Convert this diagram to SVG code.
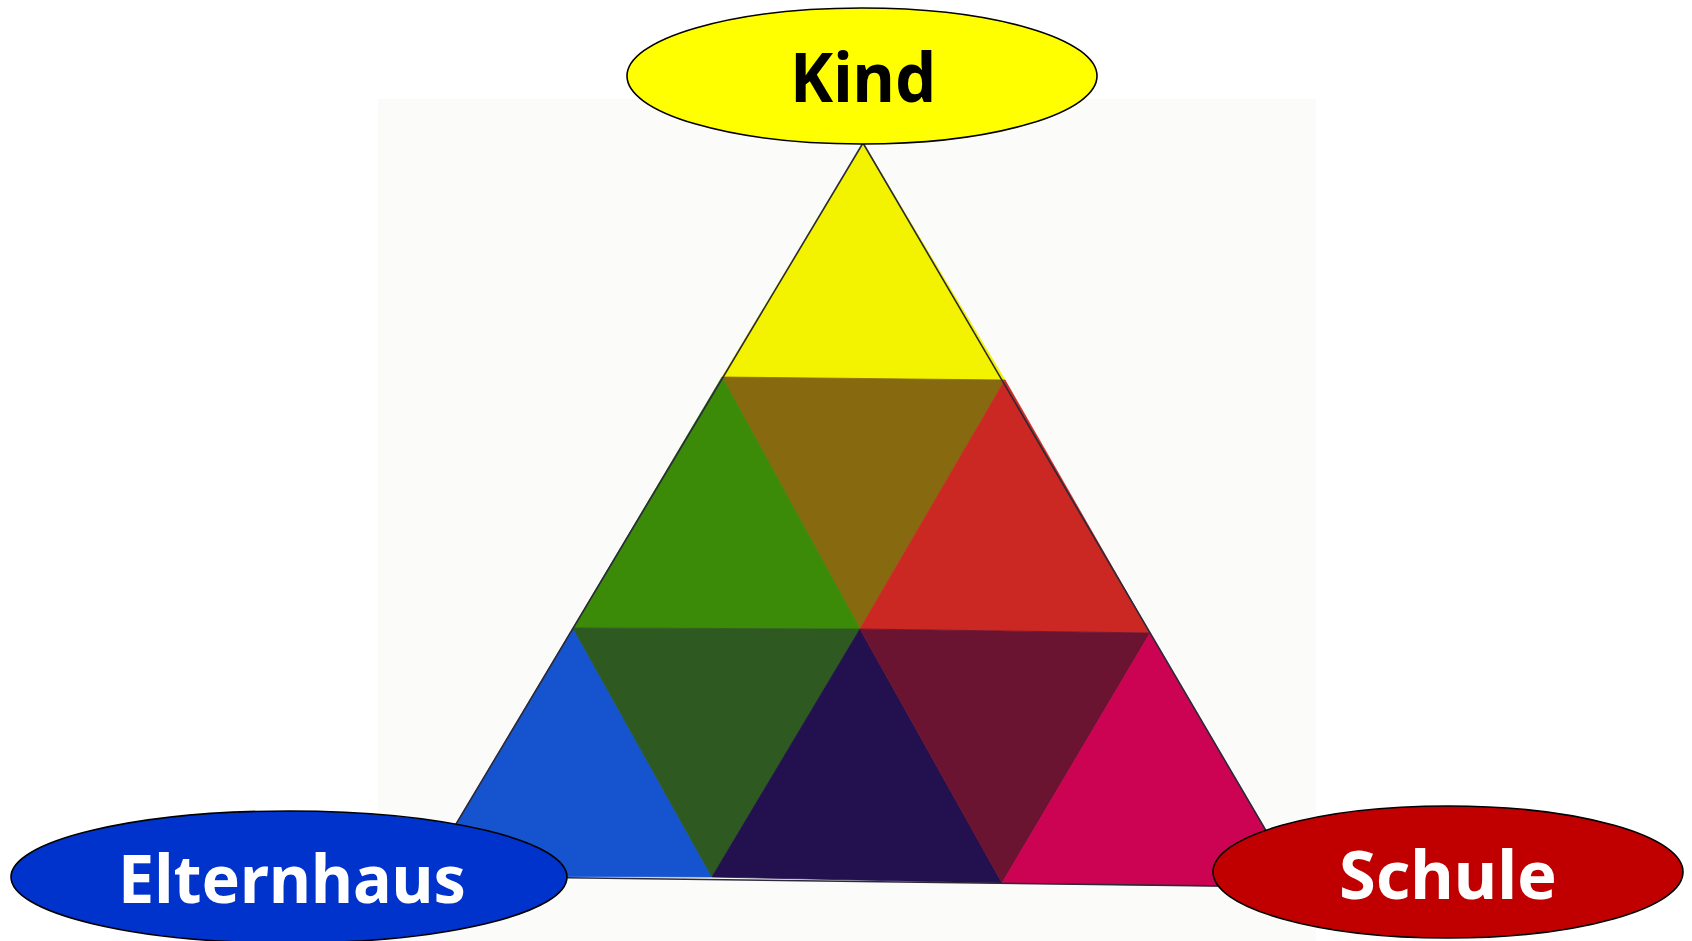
<svg xmlns="http://www.w3.org/2000/svg" width="1692" height="941" viewBox="0 0 1692 941">
  <style>
    .node { stroke: #000; stroke-width: 1.6; }
    .lbl { font-family: "Noto Sans", "DejaVu Sans", "Liberation Sans", sans-serif; font-weight: bold; text-anchor: middle; }
    .tri { stroke-width: 0.8; stroke-linejoin: round; }
  </style>
  <rect x="0" y="0" width="1692" height="941" fill="#ffffff"/>
  <rect id="backdrop" x="378" y="99" width="938" height="842" fill="#fbfcfa"/>
  <g id="triangle">
    <polygon class="tri" points="863,143 722,377 1005,380" fill="#f3f300" stroke="#f3f300"/>
    <polygon class="tri" points="722,377 1005,380 860,629" fill="#87690f" stroke="#87690f"/>
    <polygon class="tri" points="722,377 573,628 860,629" fill="#3b8a08" stroke="#3b8a08"/>
    <polygon class="tri" points="1005,380 860,629 1150,633" fill="#cc2823" stroke="#cc2823"/>
    <polygon class="tri" points="573,628 425,876 712,877" fill="#1654cf" stroke="#1654cf"/>
    <polygon class="tri" points="573,628 860,629 712,877" fill="#2e5a22" stroke="#2e5a22"/>
    <polygon class="tri" points="860,629 712,877 1002,883" fill="#23104f" stroke="#23104f"/>
    <polygon class="tri" points="860,629 1150,633 1002,883" fill="#6b1431" stroke="#6b1431"/>
    <polygon class="tri" points="1150,633 1002,883 1299,887" fill="#cb0352" stroke="#cb0352"/>
    <polygon points="863,143 425,876 1299,887" fill="none" stroke="#2a2a3a" stroke-width="1.6" stroke-linejoin="round"/>
  </g>
  <g id="kind">
    <ellipse class="node" cx="862" cy="76" rx="235" ry="68" fill="#ffff00"/>
    <text class="lbl" x="863" y="102" font-size="68" fill="#000" textLength="146" lengthAdjust="spacingAndGlyphs">Kind</text>
  </g>
  <g id="elternhaus">
    <ellipse class="node" cx="289" cy="877" rx="278" ry="66" fill="#0033cc"/>
    <text class="lbl" x="292" y="903" font-size="67" fill="#fff" textLength="348" lengthAdjust="spacingAndGlyphs">Elternhaus</text>
  </g>
  <g id="schule">
    <ellipse class="node" cx="1448" cy="872" rx="235" ry="66" fill="#c00000"/>
    <text class="lbl" x="1448" y="899" font-size="66" fill="#fff" textLength="218" lengthAdjust="spacingAndGlyphs">Schule</text>
  </g>
</svg>
